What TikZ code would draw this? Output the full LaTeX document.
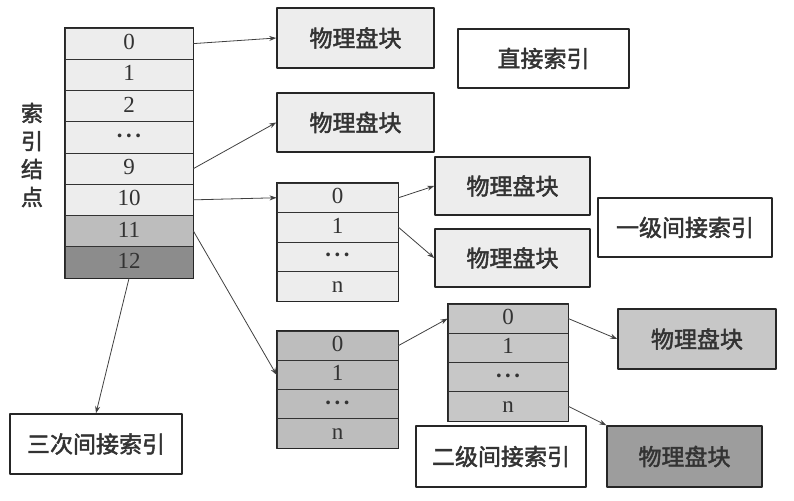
\documentclass[tikz,border=0pt]{standalone}
\usepackage{fontspec}
\setmainfont{Liberation Serif}
\newfontfamily\cjk[AutoFakeBold=2]{Noto Sans CJK SC}
\usetikzlibrary{arrows.meta}

\definecolor{lgray}{HTML}{EDEDED}
\definecolor{mgray}{HTML}{BDBDBD}
\definecolor{dgray}{HTML}{8C8C8C}
\newcommand\dotsrow{\textbf{·\kern1.5pt·\kern1.5pt·}}

\begin{document}
\begin{tikzpicture}[x=1pt,y=-1pt,line cap=round,line join=round,
  cell/.style={draw=black!80,line width=0.9pt,inner sep=0pt,text=black!80,
    font=\fontsize{23}{24}\selectfont,text height=12pt,text depth=0pt},
  blk/.style={draw=black!85,line width=1.6pt,inner sep=0pt,text=black!80,
    font=\cjk\bfseries\fontsize{23}{26}\selectfont},
  con/.style={-{Stealth[length=7pt,width=5pt]},line width=0.8pt,draw=black!75}]
  \useasboundingbox (0,0) rectangle (794,500);

  % index node
  \foreach \t/\c [count=\i from 0] in {0/lgray,1/lgray,2/lgray,\dotsrow/lgray,9/lgray,10/lgray,11/mgray,12/dgray}
    \node[cell,fill=\c,minimum width=128pt,minimum height=31.25pt] (idx\i) at (129,43.6+31.25*\i) {\t};
  \draw[line width=1.6pt,draw=black!85] (idx0.north west) rectangle (idx7.south east);
  \node[text=black!80,align=center,font=\cjk\bfseries\fontsize{22}{28}\selectfont] (lab) at (32,155) {索\\引\\结\\点};

  % single indirect table
  \foreach \t [count=\i from 0] in {0,1,\dotsrow,n}
    \node[cell,fill=lgray,minimum width=121pt,minimum height=29.5pt] (ta\i) at (337.5,197.75+29.5*\i) {\t};
  \draw[line width=1.6pt,draw=black!85] (ta0.north west) rectangle (ta3.south east);

  % double indirect tables
  \foreach \t [count=\i from 0] in {0,1,\dotsrow,n}
    \node[cell,fill=mgray,minimum width=121pt,minimum height=29.25pt] (tb\i) at (337.5,345.6+29.25*\i) {\t};
  \draw[line width=1.6pt,draw=black!85] (tb0.north west) rectangle (tb3.south east);
  \foreach \t [count=\i from 0] in {0,1,\dotsrow,n}
    \node[cell,fill=mgray!85,minimum width=120pt,minimum height=29.25pt] (tc\i) at (508,318.6+29.25*\i) {\t};
  \draw[line width=1.6pt,draw=black!85] (tc0.north west) rectangle (tc3.south east);

  % disk blocks and labels
  \node[blk,fill=lgray,minimum width=157pt,minimum height=60pt] (blk0) at (355.5,38) {物理盘块};
  \node[blk,fill=lgray,minimum width=157pt,minimum height=59pt] (blk9) at (355.5,122.5) {物理盘块};
  \node[blk,fill=white,minimum width=171pt,minimum height=59pt] (direct) at (543.5,58.5) {直接索引};
  \node[blk,fill=lgray,minimum width=155pt,minimum height=58pt] (blka) at (512.5,186) {物理盘块};
  \node[blk,fill=lgray,minimum width=155pt,minimum height=58pt] (blkb) at (512.5,258) {物理盘块};
  \node[blk,fill=white,minimum width=174pt,minimum height=59pt] (single) at (685,227.5) {一级间接索引};
  \node[blk,fill=mgray!85,minimum width=158pt,minimum height=60pt] (blkc) at (697,339) {物理盘块};
  \node[blk,fill=dgray!85,minimum width=155pt,minimum height=61pt] (blkd) at (684.5,456.5) {物理盘块};
  \node[blk,fill=white,minimum width=170pt,minimum height=61pt] (double) at (501,456.5) {二级间接索引};
  \node[blk,fill=white,minimum width=172pt,minimum height=60pt] (triple) at (96,444) {三次间接索引};

  % pointers
  \draw[con] (idx0.east) -- (blk0.west);
  \draw[con] (idx4.east) -- (blk9.west);
  \draw[con] (idx5.east) -- (ta0.west);
  \draw[con] (idx6.east) -- (tb1.west);
  \draw[con] (idx7.south) -- (triple.north);
  \draw[con] (ta0.east) -- (blka.west);
  \draw[con] (ta1.east) -- (blkb.west);
  \draw[con] (tb0.east) -- (tc0.west);
  \draw[con] (tc0.east) -- (blkc.west);
  \draw[con] (tc3.east) -- (blkd.north west);
\end{tikzpicture}
\end{document}
